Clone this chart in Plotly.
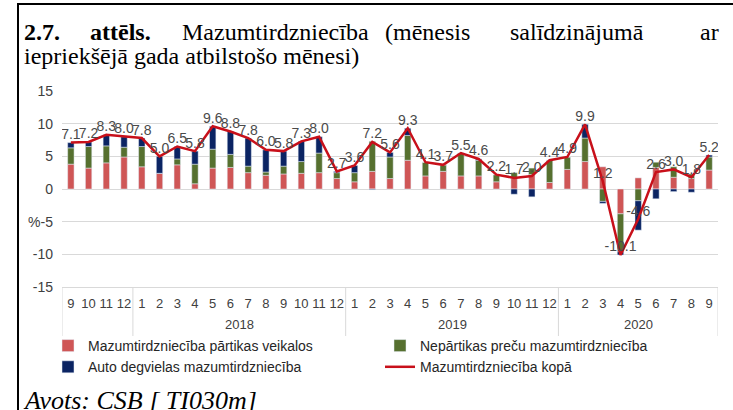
import plotly.graph_objects as go

# ---- data ----
year_labels = [""] * 4 + ["2018"] * 12 + ["2019"] * 12 + ["2020"] * 9
month_labels = ["9", "10", "11", "12",
                "1", "2", "3", "4", "5", "6", "7", "8", "9", "10", "11", "12",
                "1", "2", "3", "4", "5", "6", "7", "8", "9", "10", "11", "12",
                "1", "2", "3", "4", "5", "6", "7", "8", "9"]

food = [3.8, 3.2, 4.0, 4.9, 3.4, 2.4, 3.7, 0.8, 3.2, 3.3, 2.5, 2.1, 2.3, 2.4, 2.5, 1.6,
        1.1, 2.7, 1.6, 4.4, 2.0, 2.7, 2.0, 2.0, 1.1, 1.6, 2.2, 1.0,
        3.0, 4.2, 3.4, -3.8, 1.7, 3.3, 1.8, 1.6, 2.9]
nonfood = [2.5, 3.3, 2.6, 1.5, 3.1, 0.0, 0.9, 3.0, 2.9, 2.0, 1.0, 0.5, 1.2, 1.8, 3.0, 0.9,
           1.4, 4.6, 3.3, 3.8, 2.1, 1.0, 3.5, 2.4, 1.1, 0.9, 1.0, 3.4,
           1.9, 3.6, -1.9, -5.8, -1.8, 0.8, 1.6, 0.7, 2.0]
fuel = [0.8, 0.7, 1.7, 1.6, 1.3, 2.6, 1.9, 2.0, 3.5, 3.5, 4.3, 3.4, 2.3, 3.1, 2.5, 0.2,
        1.1, -0.1, 0.7, 1.1, 0.0, 0.0, 0.0, 0.2, 0.0, -0.8, -1.2, 0.0,
        0.0, 2.1, -0.3, -0.5, -4.5, -1.5, -0.4, -0.5, 0.3]
total = [7.1, 7.2, 8.3, 8.0, 7.8, 5.0, 6.5, 5.8, 9.6, 8.8, 7.8, 6.0, 5.8, 7.3, 8.0, 2.7,
         3.6, 7.2, 5.6, 9.3, 4.1, 3.7, 5.5, 4.6, 2.2, 1.7, 2.0, 4.4,
         4.9, 9.9, 1.2, -10.1, -4.6, 2.6, 3.0, 1.8, 5.2]

y_tickvals = [-15, -10, -5, 0, 5, 10, 15]
y_ticktext = ["-15", "-10", "%-5", "0", "5", "10", "15"]

names = ["Mazumtirdzniecība pārtikas veikalos",
         "Nepārtikas preču mazumtirdzniecība",
         "Auto degvielas mazumtirdzniecība",
         "Mazumtirdzniecība kopā"]

# ---- layout geometry ----
W, H = 733, 410
ML, MR, MT, MB = 62, 15, 91, 123
PW, PH = W - ML - MR, H - MT - MB


def px(x):
    return (x - ML) / PW


def py(y):
    return (H - MB - y) / PH


xi = list(range(len(month_labels)))
fig = go.Figure()
fig.add_bar(x=xi, y=food, name=names[0], marker_color="#cf5656", legend="legend")
fig.add_bar(x=xi, y=nonfood, name=names[1], marker_color="#56702f", legend="legend2")
fig.add_bar(x=xi, y=fuel, name=names[2], marker_color="#0b2463", legend="legend")
fig.add_scatter(x=xi, y=total, name=names[3], mode="lines+text",
                line=dict(color="#c8101a", width=2.5),
                text=[f"{v:.1f}" for v in total], textposition="top center",
                textfont=dict(family="Liberation Sans", size=14, color="#4a4a4a"),
                legend="legend2")

lfont = dict(family="Liberation Sans", size=14, color="#262626")
fig.update_layout(
    width=W, height=H,
    margin=dict(l=ML, r=MR, t=MT, b=MB),
    paper_bgcolor="white", plot_bgcolor="white",
    barmode="relative", bargap=0.64,
    font=dict(family="Liberation Sans", color="#404040"),
    legend=dict(x=px(48), y=py(330), xanchor="left", yanchor="top",
                font=lfont, itemwidth=30, tracegroupgap=0, bgcolor="rgba(0,0,0,0)"),
    legend2=dict(x=px(380), y=py(330), xanchor="left", yanchor="top",
                 font=lfont, itemwidth=30, tracegroupgap=0, bgcolor="rgba(0,0,0,0)"),
    showlegend=True,
)
fig.update_yaxes(range=[-15, 15], tickvals=y_tickvals, ticktext=y_ticktext,
                 showgrid=True, gridcolor="#d9d9d9", gridwidth=1,
                 zeroline=False, showline=False,
                 tickfont=dict(family="Liberation Sans", size=14, color="#404040"),
                 ticks="", ticklabelstandoff=8)
fig.update_xaxes(range=[-0.5, len(xi) - 0.5], tickvals=xi, ticktext=month_labels,
                 tickangle=0, showline=True, linecolor="#d9d9d9", showgrid=False,
                 zeroline=False, ticks="", ticklabelstandoff=4,
                 tickfont=dict(family="Liberation Sans", size=13, color="#404040"))

# year group labels and dividers
bounds = [0]
for i in range(1, len(year_labels)):
    if year_labels[i] != year_labels[i - 1]:
        bounds.append(i)
bounds.append(len(year_labels))
for b in bounds:
    fig.add_shape(type="line", xref="x", yref="paper", x0=b - 0.5, x1=b - 0.5,
                  y0=0, y1=py(336), line=dict(color="#d9d9d9", width=1))
for a, b in zip(bounds[:-1], bounds[1:]):
    if year_labels[a]:
        fig.add_annotation(x=(a + b - 1) / 2, y=py(324), xref="x", yref="paper",
                           text=year_labels[a], showarrow=False, yanchor="middle",
                           font=dict(family="Liberation Sans", size=13, color="#404040"))

serif = "Liberation Serif"
tfs = 24
ty1, ty2 = 32, 56
words = [("<b>2.7.</b>", 22), ("<b>attēls.</b>", 88), ("Mazumtirdzniecība", 180),
         ("(mēnesis", 383), ("salīdzinājumā", 508), ("ar", 698)]
for w, xs in words:
    fig.add_annotation(x=px(xs), y=py(ty1), xref="paper", yref="paper", text=w,
                       showarrow=False, xanchor="left", yanchor="middle",
                       font=dict(family=serif, size=tfs, color="black"))
fig.add_annotation(x=px(22), y=py(ty2), xref="paper", yref="paper",
                   text="iepriekšējā gada atbilstošo mēnesi)",
                   showarrow=False, xanchor="left", yanchor="middle",
                   font=dict(family=serif, size=tfs, color="black"))
fig.add_annotation(x=px(21), y=py(400), xref="paper", yref="paper",
                   text="<i>Avots: CSB [ TI030m]</i>",
                   showarrow=False, xanchor="left", yanchor="middle",
                   font=dict(family=serif, size=26, color="black"))

# frame lines
fig.add_shape(type="line", xref="paper", yref="paper", x0=px(17), x1=px(733),
              y0=py(4), y1=py(4), line=dict(color="black", width=2))
fig.add_shape(type="line", xref="paper", yref="paper", x0=px(18), x1=px(18),
              y0=py(4), y1=py(410), line=dict(color="black", width=2))

fig.write_html("out.html", config={"displayModeBar": False},
               post_script="document.body.style.margin='0';document.body.style.overflow='hidden';")
